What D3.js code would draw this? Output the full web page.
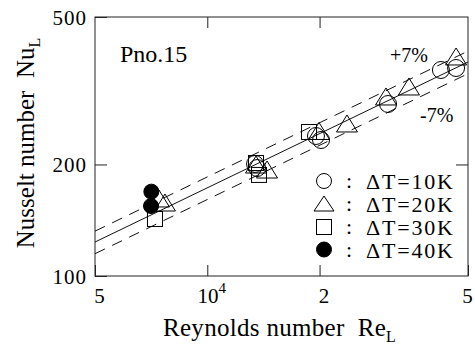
<!DOCTYPE html>
<html>
<head>
<meta charset="utf-8">
<script src="https://cdn.jsdelivr.net/npm/d3@7"></script>
<style>
  body { margin: 0; background: #fff; }
  svg { display: block; }
  text { font-family: "Liberation Serif", "DejaVu Serif", "Times New Roman", serif; fill: #000; }
</style>
</head>
<body>
<div id="chart"></div>
<script>
// values (Re_L, Nu_L)
const re10 = [13430, 13600, 19560, 20180, 30520, 42300, 46450];
const nu10 = [200.6, 195.6, 238.7, 232.8, 291.2, 359.7, 364.2];
const re20 = [7420, 7700, 13510, 14460, 19930, 23690, 30140, 34730, 46450];
const nu20 = [161.4, 157.4, 199.3, 193.2, 245.5, 257.2, 304.2, 323.7, 390];
const re30 = [7240, 13510, 13760, 18740];
const nu30 = [142.5, 201.8, 187.4, 244.7];
const re40 = [7080, 7065];
const nu40 = [168.9, 154.5];

// correlation line and +/-7% band
const fitRe = [5000, 50000];
const fitNu = [123.5, 378];
const band = 0.07;

const xTicks = [5000, 10000, 20000, 50000];
const xTickLabels = ['5', '10', '2', '5'];
const yTicks = [100, 200, 500];
const yTickLabels = ['100', '200', '500'];
const legendLabels = ['\u0394T=10K', '\u0394T=20K', '\u0394T=30K', '\u0394T=40K'];

const width = 475, height = 349;
const margin = { top: 17, right: 7, bottom: 73, left: 95 };

const svg = d3.select('#chart').append('svg')
  .attr('width', width)
  .attr('height', height);

const x = d3.scaleLog()
  .domain([5000, 50000])
  .range([margin.left, width - margin.right]);

const y = d3.scaleLog()
  .domain([100, 500])
  .range([height - margin.bottom, margin.top]);

const x0 = x.range()[0], x1 = x.range()[1];
const y0 = y.range()[0], y1 = y.range()[1];

svg.append('clipPath').attr('id', 'plot')
  .append('rect')
  .attr('x', x0).attr('y', y1)
  .attr('width', x1 - x0).attr('height', y0 - y1);

// frame
svg.append('rect')
  .attr('x', x0).attr('y', y1)
  .attr('width', x1 - x0).attr('height', y0 - y1)
  .attr('fill', 'none')
  .attr('stroke', '#222')
  .attr('stroke-width', 1);

// inner ticks on all four sides
const tickLen = 11;
function ticks(axis, tr) {
  const g = svg.append('g').attr('transform', tr).call(axis);
  g.select('.domain').remove();
  g.attr('font-family', null);
  g.selectAll('.tick line').attr('stroke', '#222');
  return g;
}

const bottom = ticks(d3.axisBottom(x).tickValues(xTicks).tickSizeInner(-tickLen).tickSizeOuter(0)
  .tickFormat((d, i) => xTickLabels[i]), `translate(0,${y0})`);
bottom.selectAll('text')
  .attr('y', 27)
  .attr('dy', 0)
  .attr('dx', (d, i) => i === xTicks.length - 1 ? -1 : 4)
  .style('font-size', '21px');
bottom.selectAll('text').filter(d => d === 10000)
  .append('tspan')
  .attr('dy', -10)
  .style('font-size', '15px')
  .text('4');

ticks(d3.axisTop(x).tickValues([10000, 20000]).tickSizeInner(-tickLen).tickSizeOuter(0)
  .tickFormat(''), `translate(0,${y1})`);

const left = ticks(d3.axisLeft(y).tickValues(yTicks).tickSizeInner(-12).tickSizeOuter(0)
  .tickFormat((d, i) => yTickLabels[i]), `translate(${x0},0)`);
left.selectAll('text')
  .attr('x', -8)
  .attr('dy', '0.35em')
  .style('font-size', '21px')
  .style('letter-spacing', '1px');

ticks(d3.axisRight(y).tickValues([200]).tickSizeInner(-12).tickSizeOuter(0)
  .tickFormat(''), `translate(${x1},0)`);

// correlation and +/-7% lines
const line = d3.line().x(d => x(d[0])).y(d => y(d[1]));
const lines = svg.append('g').attr('clip-path', 'url(#plot)')
  .attr('fill', 'none').attr('stroke', '#111').attr('stroke-width', 1);

[[1, null], [1 + band, '11,8'], [1 - band, '11,8']].forEach(([k, dash]) => {
  lines.append('path')
    .attr('d', line(fitRe.map((r, i) => [r, fitNu[i] * k])))
    .attr('stroke-dasharray', dash);
});

// markers
const tri = 'M0,-9L10.5,8L-10.5,8Z';
const markers = svg.append('g').attr('stroke', '#000').attr('stroke-width', 1);

function drawCircles(res, nus, filled, r) {
  markers.selectAll(null)
    .data(res.map((d, i) => [d, nus[i]]))
    .join('circle')
    .attr('cx', d => x(d[0]))
    .attr('cy', d => y(d[1]))
    .attr('r', r)
    .attr('fill', filled ? '#000' : 'none');
}

drawCircles(re10, nu10, false, 8.5);

markers.selectAll(null)
  .data(re20.map((d, i) => [d, nu20[i]]))
  .join('path')
  .attr('transform', d => `translate(${x(d[0])},${y(d[1])})`)
  .attr('d', tri)
  .attr('fill', 'none');

markers.selectAll(null)
  .data(re30.map((d, i) => [d, nu30[i]]))
  .join('rect')
  .attr('x', d => x(d[0]) - 7.5)
  .attr('y', d => y(d[1]) - 7.5)
  .attr('width', 15)
  .attr('height', 15)
  .attr('fill', 'none');

drawCircles(re40, nu40, true, 7.5);

// legend
const legend = svg.append('g');
const legendY = [181, 204, 227, 249.5];
legendLabels.forEach((lab, i) => {
  const cx = 324, cy = legendY[i];
  const m = legend.append('g').attr('transform', `translate(${cx},${cy})`)
    .attr('stroke', '#000').attr('stroke-width', 1);
  if (i === 0) m.append('circle').attr('r', 7.5).attr('fill', 'none');
  if (i === 1) m.append('path').attr('d', 'M0,-8L10,7L-10,7Z').attr('fill', 'none');
  if (i === 2) m.append('rect').attr('x', -7.5).attr('y', -7.5).attr('width', 15).attr('height', 15).attr('fill', 'none');
  if (i === 3) m.append('circle').attr('r', 7.5).attr('fill', '#000');

  legend.append('text')
    .attr('x', 346).attr('y', cy + 7)
    .style('font-size', '22px')
    .text(':');
  legend.append('text')
    .attr('x', 366).attr('y', cy + 8)
    .style('font-size', '22px')
    .style('letter-spacing', '1.8px')
    .text(lab);
});

// annotations
svg.append('text').attr('x', 120).attr('y', 62)
  .style('font-size', '24px').text('Pno.15');
svg.append('text').attr('x', 390).attr('y', 62)
  .style('font-size', '20px').text('+7%');
svg.append('text').attr('x', 420).attr('y', 122)
  .style('font-size', '20px').text('-7%');

// axis titles
const xt = svg.append('text')
  .attr('x', 163).attr('y', 336)
  .style('font-size', '25px')
  .style('letter-spacing', '0.3px')
  .style('white-space', 'pre')
  .text('Reynolds number  Re');
xt.append('tspan').attr('dy', 6).style('font-size', '16px').text('L');

const yt = svg.append('text')
  .attr('transform', `translate(34,143) rotate(-90)`)
  .attr('text-anchor', 'middle')
  .style('font-size', '25px')
  .style('white-space', 'pre')
  .text('Nusselt number  Nu');
yt.append('tspan').attr('dy', 6).style('font-size', '16px').text('L');
</script>
</body>
</html>
